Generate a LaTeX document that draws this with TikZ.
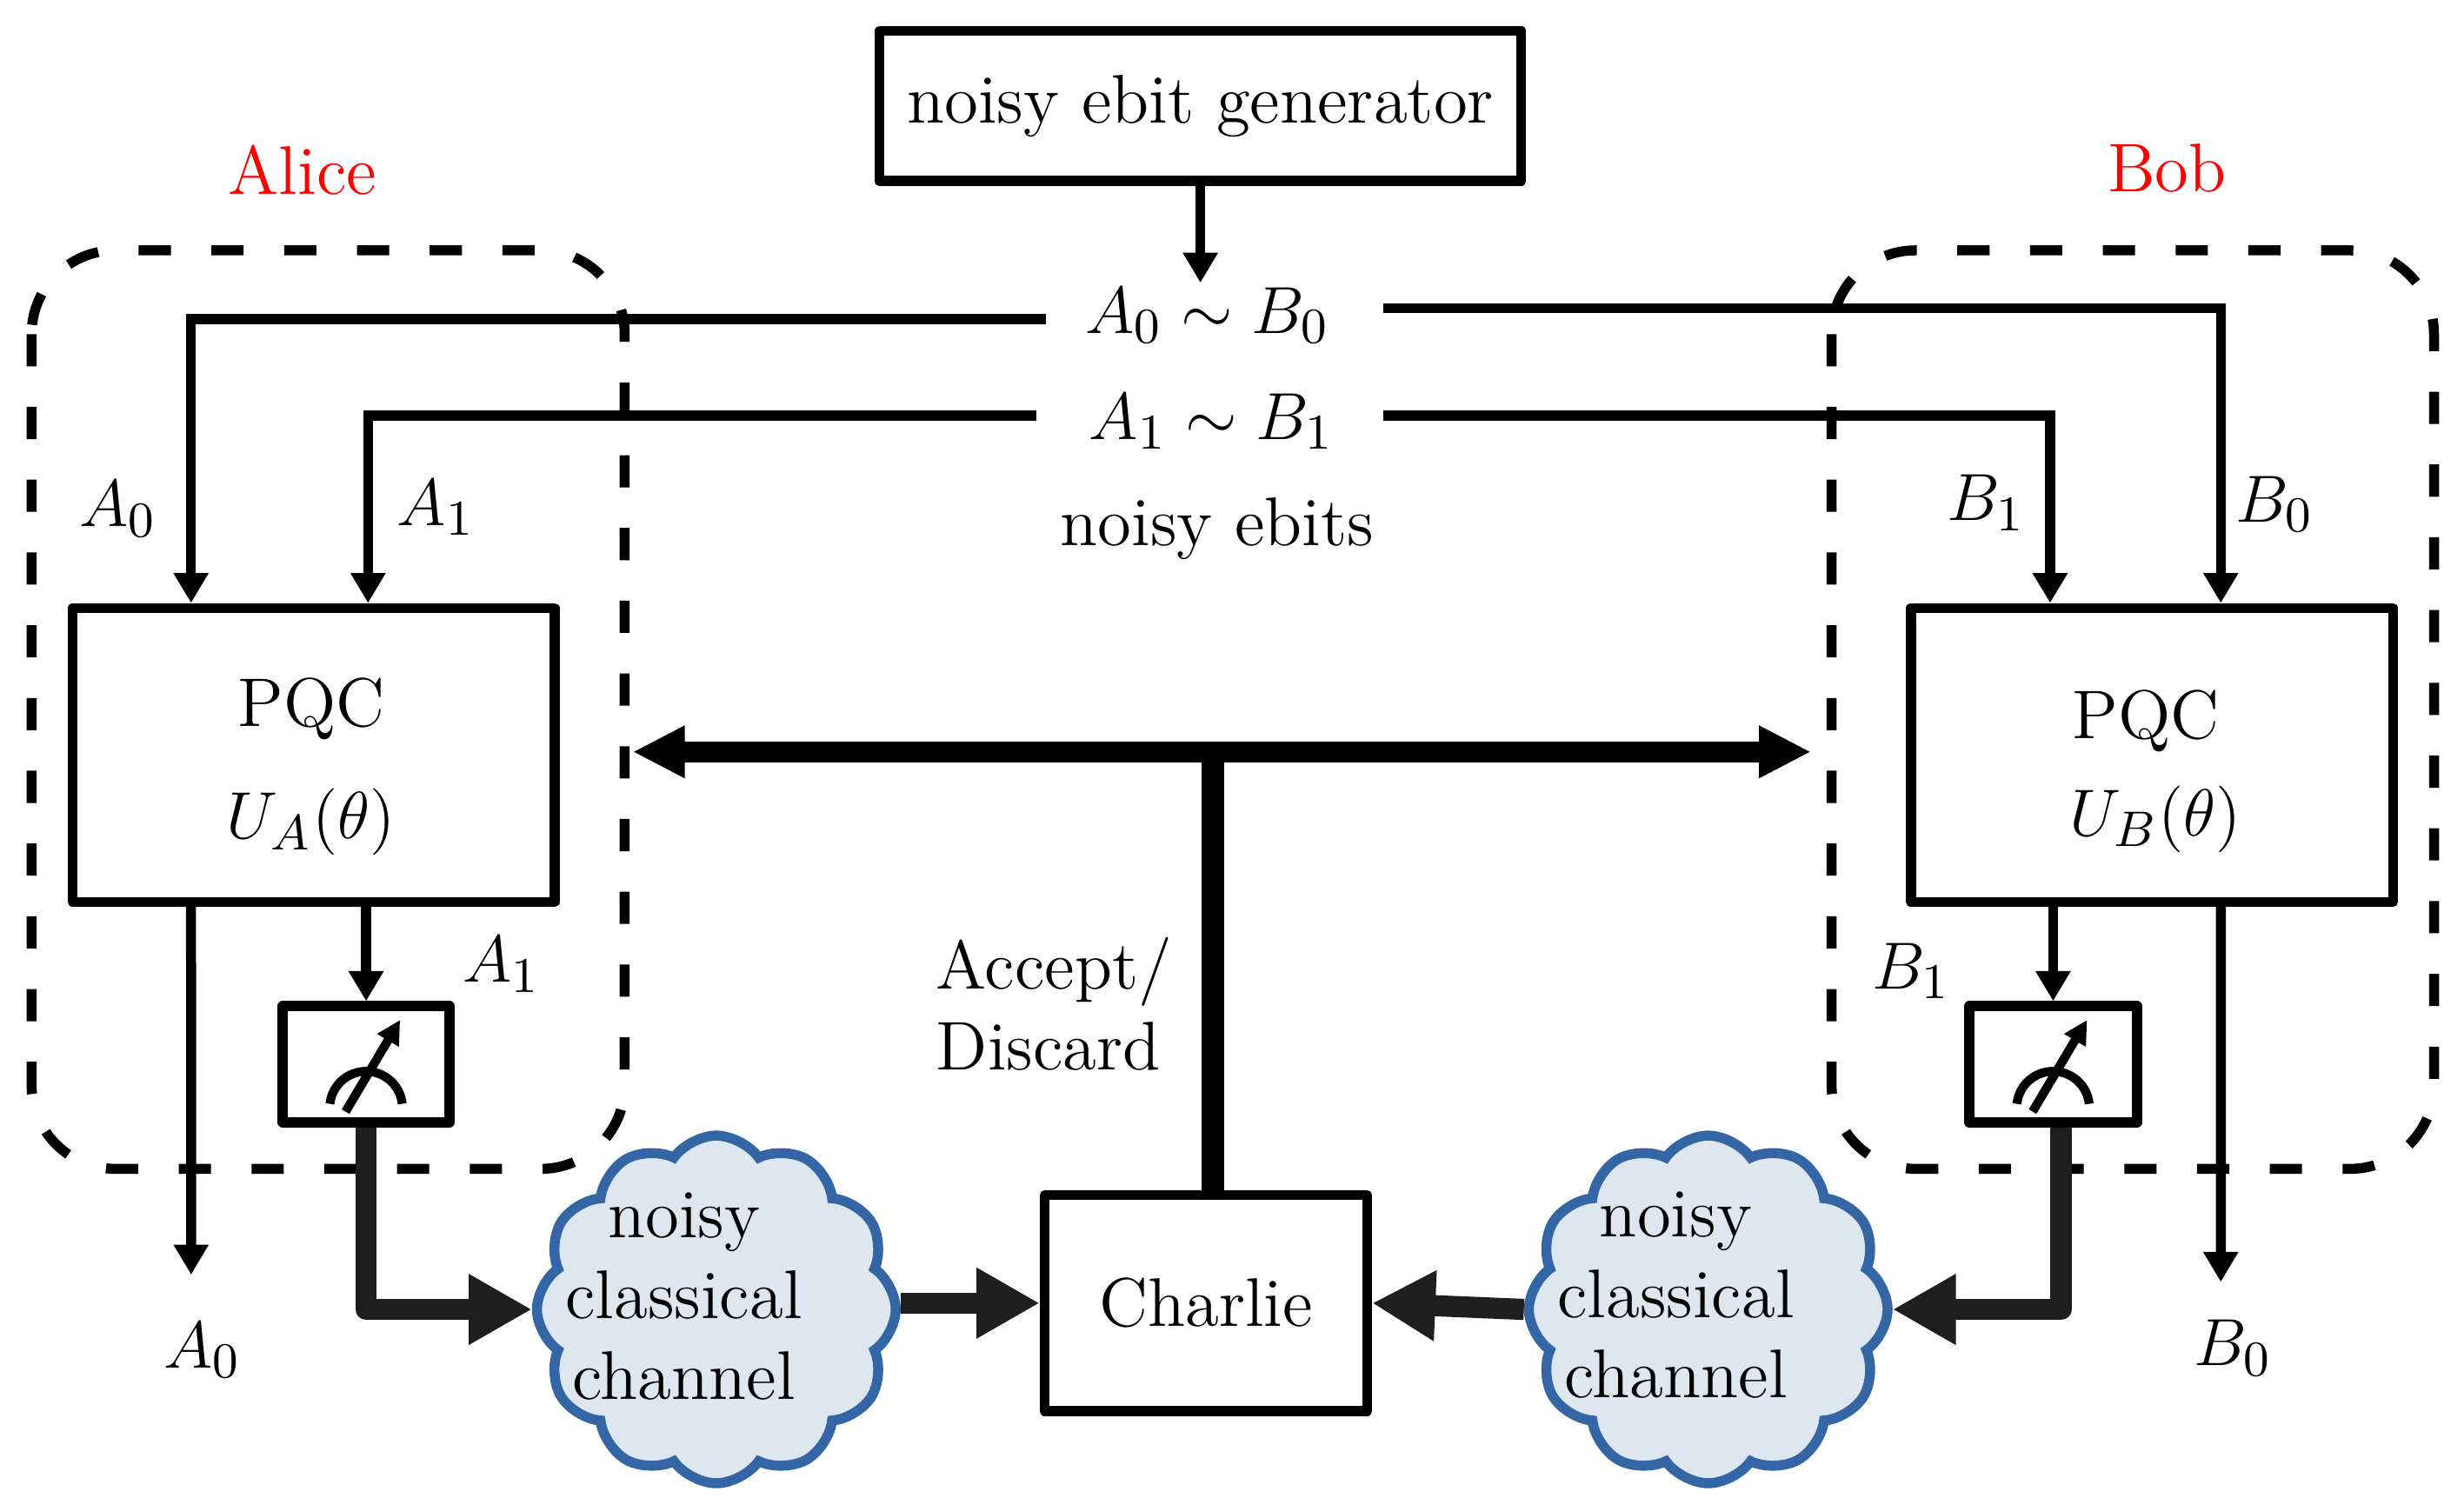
\documentclass[tikz,border=0pt]{standalone}
\usetikzlibrary{arrows.meta,shapes.symbols,calc}
\definecolor{cloudfill}{RGB}{222,230,240}
\definecolor{cloudline}{RGB}{52,102,166}
\definecolor{thickgray}{RGB}{30,30,30}
\begin{document}
\begin{tikzpicture}[x=0.01cm,y=-0.01cm,
  every node/.style={font=\fontsize{12.4}{14.5}\selectfont},
  box/.style={draw, line width=1.8pt, line join=round, inner sep=0pt},
  lbl/.style={anchor=base, inner sep=0pt},
  thinarr/.style={line width=1.8pt, -{Triangle[length=0.19cm,width=0.21cm]}},
  thickarr/.style={line width=3.8pt, draw=thickgray, line join=round, -{Triangle[length=0.4cm,width=0.42cm]}},
  group/.style={line width=1.8pt, dash pattern=on 5.8pt off 7.3pt, rounded corners=0.53cm},
  chan/.style={cloud, cloud puffs=12, cloud puff arc=110, aspect=1, draw=cloudline, fill=cloudfill, line width=1.8pt, minimum width=2.27cm, minimum height=2.2cm, inner sep=0pt},
  meterline/.style={line width=1.6pt}
]
\useasboundingbox (0,0) rectangle (1560,952.3);

% group boxes
\draw[group] (20,158.5) rectangle (395.5,740);
\draw[group] (1159.6,158.5) rectangle (1541,740);

% boxes
\node[box, minimum width=4.06cm, minimum height=0.95cm] (gen) at (760,67) {noisy ebit generator};
\node[box, minimum width=3.05cm, minimum height=1.86cm] (pqcA) at (198.5,478) {};
\node[box, minimum width=3.05cm, minimum height=1.86cm] (pqcB) at (1362.5,478) {};
\node[box, minimum width=1.056cm, minimum height=0.735cm] (measA) at (231.8,673.75) {};
\node[box, minimum width=1.063cm, minimum height=0.735cm] (measB) at (1299.85,673.75) {};
\node[box, minimum width=2.04cm, minimum height=1.365cm] (charlie) at (763.5,825) {Charlie};
\node[chan] (cloudA) at (453.5,829) {};
\node[chan] (cloudB) at (1081.5,829) {};

% labels
\node[lbl, text=red] (alice) at (191.5,123) {Alice};
\node[lbl, text=red] (bob) at (1372,121.5) {Bob};
\node[lbl] (e0) at (764.5,211) {$A_0\sim B_0$};
\node[lbl] (e1) at (767,278) {$A_1\sim B_1$};
\node[lbl] (ebits) at (770.6,345.6) {noisy ebits};
\node[lbl] (la0) at (74.7,333.4) {$A_0$};
\node[lbl] (la1) at (276,332.5) {$A_1$};
\node[lbl] (lb1) at (1257.5,329.5) {$B_1$};
\node[lbl] (lb0) at (1440,330.4) {$B_0$};
\node[lbl] (pqcAt) at (197,460) {PQC};
\node[lbl] (uat) at (197,530.7) {$U_A(\theta)$};
\node[lbl] (pqcBt) at (1358.7,467.6) {PQC};
\node[lbl] (ubt) at (1364.5,529) {$U_B(\theta)$};
\node[lbl] (la1m) at (317.5,621.8) {$A_1$};
\node[lbl] (lb1m) at (1210,626) {$B_1$};
\node[lbl] (la0o) at (128,866) {$A_0$};
\node[lbl] (lb0o) at (1413.5,864.7) {$B_0$};
\node[lbl, anchor=base west] (acc) at (592,626.3) {\begin{tabular}[t]{@{}l@{}}Accept/\\Discard\end{tabular}};
\node[lbl] (ctA) at (433,783.8) {\begin{tabular}[t]{@{}c@{}}noisy\\classical\\channel\end{tabular}};
\node[lbl] (ctB) at (1061,783) {\begin{tabular}[t]{@{}c@{}}noisy\\classical\\channel\end{tabular}};

% coordinates
\coordinate (genTip) at (760,179);
\coordinate (a0s) at (662,202);
\coordinate (a1s) at (656,263);
\coordinate (b0s) at (875.5,195);
\coordinate (b1s) at (875.5,263);
\coordinate (a0out) at (121,807);
\coordinate (b0out) at (1406,811.6);
\coordinate (accL) at (400.6,476);
\coordinate (accR) at (1146.6,476);
\coordinate (accJ) at (768,476);

% ebit arrows
\draw[thinarr] (gen.south) -- (genTip);
\draw[thinarr] (a0s) -| ([xshift=-0.775cm]pqcA.north);
\draw[thinarr] (a1s) -| ([xshift=0.345cm]pqcA.north);
\draw[thinarr] (b0s) -| ([xshift=0.435cm]pqcB.north);
\draw[thinarr] (b1s) -| ([xshift=-0.645cm]pqcB.north);

% outputs
\draw[thinarr] ([xshift=-0.775cm]pqcA.south) -- (a0out);
\draw[thinarr] ([xshift=0.435cm]pqcB.south) -- (b0out);
\draw[thinarr] (measA.north |- pqcA.south) -- (measA.north);
\draw[thinarr] (measB.north |- pqcB.south) -- (measB.north);

% meters
\foreach \m in {measA,measB}{
  \draw[meterline] ($(\m.center)+(-22.9,25.1)$) arc[start angle=-174, end angle=-6, radius=23];
  \draw[meterline, -{Triangle[length=0.15cm,width=0.15cm]}] ($(\m.center)+(-13,30)$) -- ($(\m.center)+(21.5,-28)$);
}

% classical channels
\draw[thickarr] (measA.south) |- (cloudA.west);
\draw[thickarr] ([xshift=0.05cm]measB.south) |- (cloudB.east);
\draw[thickarr] (cloudA.east |- charlie.west) -- (charlie.west);
\draw[thickarr] (cloudB.west) -- (charlie.east);

% accept / discard
\draw[line width=4pt] (charlie.north -| accJ) -- (accJ);
\draw[line width=3.8pt, {Triangle[length=0.33cm,width=0.31cm]}-{Triangle[length=0.33cm,width=0.31cm]}] (accL) -- (accR);
\end{tikzpicture}
\end{document}
